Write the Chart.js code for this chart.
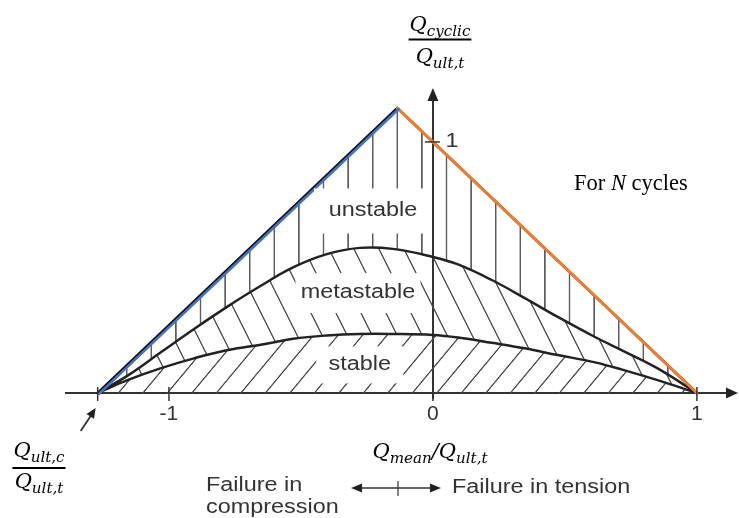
<!DOCTYPE html>
<html>
<head>
<meta charset="utf-8">
<script src="https://cdn.jsdelivr.net/npm/chart.js@4.4.1/dist/chart.umd.min.js"></script>
<style>
  html, body { margin: 0; padding: 0; background: #fff; }
  canvas { display: block; }
</style>
</head>
<body>
<canvas id="c" width="739" height="518"></canvas>
<script>
// Cyclic interaction diagram: cyclic load amplitude vs. mean load, both over tension capacity
const xTickValues = [-1.27, -1, 0, 1];
const xTickLabels = ['', '-1', '0', '1'];
const yTickValues = [1];
const yTickLabels = ['1'];

// Static failure envelope: compression capacity, apex, tension capacity
const envelopeX = [-1.27, -0.135, 1];
const envelopeY = [0, 1.135, 0];

// Boundary between the unstable and metastable zones
const metastableX = [-1.27, -1.155, -1.027, -0.902, -0.777, -0.663, -0.53, -0.402, -0.277, -0.152, 0, 0.095, 0.223, 0.348, 0.473, 0.614, 0.72, 0.848, 1];
const metastableY = [0, 0.07, 0.165, 0.257, 0.345, 0.42, 0.5, 0.553, 0.578, 0.574, 0.542, 0.512, 0.45, 0.378, 0.303, 0.223, 0.168, 0.1, 0];

// Boundary between the metastable and stable zones
const stableX = [-1.27, -1.155, -1.027, -0.902, -0.777, -0.636, -0.53, -0.402, -0.277, -0.152, 0, 0.095, 0.223, 0.348, 0.473, 0.614, 0.72, 0.848, 1];
const stableY = [0, 0.052, 0.1, 0.139, 0.171, 0.195, 0.216, 0.229, 0.235, 0.235, 0.231, 0.221, 0.2, 0.178, 0.151, 0.122, 0.092, 0.052, 0];

// Zone names and where they sit (data units)
const zoneNames = ['unstable', 'metastable', 'stable'];
const zoneX = [-0.227, -0.284, -0.277];
const zoneY = [0.725, 0.398, 0.112];

const pts = (xs, ys) => xs.map((x, i) => ({ x, y: ys[i] }));

// Hatch patterns are built once the scales know their pixel geometry
const hatch = { vertical: 'transparent', forward: 'transparent', back: 'transparent' };

function makeHatch(ctx, angleDeg, spacing, width, color, x0, y0) {
  const P = 32;
  const tile = document.createElement('canvas');
  tile.width = P; tile.height = 8;
  const g = tile.getContext('2d');
  g.fillStyle = color;
  const w = width * P / spacing;
  g.fillRect(P / 2 - w / 2, 0, w, 8);
  const pat = ctx.createPattern(tile, 'repeat');
  const m = new DOMMatrix().translate(x0, y0).rotate(angleDeg).scale(spacing / P, 1).translate(-P / 2, 0);
  pat.setTransform(m);
  return pat;
}

function sansText(ctx, text, x, y, align) {
  ctx.save();
  ctx.translate(x, y);
  ctx.scale(1.2, 1);
  ctx.font = '19.5px "Liberation Sans", Arial, sans-serif';
  ctx.fillStyle = '#333';
  ctx.textAlign = align;
  ctx.textBaseline = 'middle';
  ctx.fillText(text, 0, 0);
  ctx.restore();
}

// Math-style run: main letters and lowered subscripts, italic serif
function mathRun(ctx, parts, x, y, size, draw) {
  let cx = x;
  for (const [t, sub] of parts) {
    const fs = sub ? size * 0.72 : size;
    ctx.font = 'italic ' + fs + 'px "DejaVu Serif", serif';
    if (draw) ctx.fillText(t, cx, sub ? y + size * 0.22 : y);
    cx += ctx.measureText(t).width;
  }
  return cx - x;
}
function mathCentered(ctx, parts, cx, y, size) {
  const w = mathRun(ctx, parts, 0, 0, size, false);
  mathRun(ctx, parts, cx - w / 2, y, size, true);
  return w;
}
function fraction(ctx, num, den, cx, numY, lineY, denY, size) {
  ctx.save();
  ctx.fillStyle = '#000';
  ctx.textAlign = 'left';
  ctx.textBaseline = 'alphabetic';
  const w1 = mathCentered(ctx, num, cx, numY, size);
  const w2 = mathCentered(ctx, den, cx, denY, size);
  const w = Math.max(w1, w2) + 2;
  ctx.fillRect(cx - w / 2, lineY - 1, w, 2);
  ctx.restore();
}

function arrowHead(ctx, tx, ty, fx, fy, len, half) {
  const a = Math.atan2(ty - fy, tx - fx);
  ctx.beginPath();
  ctx.moveTo(tx, ty);
  ctx.lineTo(tx - len * Math.cos(a) + half * Math.sin(a), ty - len * Math.sin(a) - half * Math.cos(a));
  ctx.lineTo(tx - len * Math.cos(a) - half * Math.sin(a), ty - len * Math.sin(a) + half * Math.cos(a));
  ctx.closePath();
  ctx.fill();
}

const decor = {
  id: 'decor',
  afterLayout(chart) {
    const { x, y } = chart.scales;
    const ctx = chart.ctx;
    hatch.vertical = makeHatch(ctx, 0, 24.6, 1.5, '#5a5a5a', x.getPixelForValue(envelopeX[1]), 0);
    const mf = 1.2;
    hatch.forward = makeHatch(ctx, Math.atan(1 / mf) * 180 / Math.PI, 24.5 * mf / Math.hypot(1, mf), 1.3, '#4a4a4a',
      x.getPixelForValue(0) + 4, y.getPixelForValue(0));
    const mb = 2;
    hatch.back = makeHatch(ctx, -Math.atan(1 / mb) * 180 / Math.PI, 25 * mb / Math.hypot(1, mb), 1.3, '#4a4a4a',
      x.getPixelForValue(0), y.getPixelForValue(0.542));
  },
  beforeDatasetDraw(chart, args) {
    const s = chart.data.datasets[args.index].shift;
    chart.ctx.save();
    if (s) chart.ctx.translate(s[0], s[1]);
  },
  afterDatasetDraw(chart) {
    chart.ctx.restore();
  },
  afterDatasetsDraw(chart) {
    const { x, y } = chart.scales;
    const ctx = chart.ctx;
    const x0 = x.getPixelForValue(0), y0 = y.getPixelForValue(0);

    // zone labels on cleared boxes
    const boxes = [[118, 45], [125, 40], [87, 37]];
    zoneNames.forEach((name, i) => {
      const cx = x.getPixelForValue(zoneX[i]), cy = y.getPixelForValue(zoneY[i]);
      ctx.fillStyle = '#fff';
      ctx.fillRect(cx - boxes[i][0] / 2, cy - boxes[i][1] / 2, boxes[i][0], boxes[i][1]);
      sansText(ctx, name, cx, cy, 'center');
    });

    ctx.save();
    ctx.strokeStyle = '#333';
    ctx.fillStyle = '#222';
    ctx.lineWidth = 1.5;
    // tick marks crossing the axes
    xTickValues.forEach(v => {
      const px = x.getPixelForValue(v);
      ctx.beginPath(); ctx.moveTo(px, y0 - 6); ctx.lineTo(px, y0 + 8); ctx.stroke();
    });
    yTickValues.forEach((v, i) => {
      const py = y.getPixelForValue(v);
      ctx.beginPath(); ctx.moveTo(x0 - 8, py); ctx.lineTo(x0 + 7, py); ctx.stroke();
      sansText(ctx, yTickLabels[i], x0 + 19, py, 'center');
    });
    // axis arrowheads
    arrowHead(ctx, chart.chartArea.right + 6, y0, chart.chartArea.right - 4, y0, 12, 5.5);
    arrowHead(ctx, x0, chart.chartArea.top - 10, x0, chart.chartArea.top + 4, 13, 5.5);

    // pointer to the compression capacity
    const vx = x.getPixelForValue(envelopeX[0]);
    ctx.lineWidth = 1.8;
    ctx.beginPath(); ctx.moveTo(vx - 17, y0 + 38); ctx.lineTo(vx - 5, y0 + 20); ctx.stroke();
    arrowHead(ctx, vx - 2, y0 + 15, vx - 17, y0 + 38, 10, 4.5);

    // direction of failure
    ctx.lineWidth = 1.6;
    ctx.beginPath(); ctx.moveTo(355, 488); ctx.lineTo(437, 488); ctx.stroke();
    arrowHead(ctx, 351, 488, 365, 488, 11, 4.5);
    arrowHead(ctx, 441, 488, 427, 488, 11, 4.5);
    ctx.lineWidth = 1.2;
    ctx.beginPath(); ctx.moveTo(398, 481); ctx.lineTo(398, 496); ctx.stroke();
    ctx.restore();

    sansText(ctx, 'Failure in', 206, 486, 'left');
    sansText(ctx, 'compression', 206, 508, 'left');
    sansText(ctx, 'Failure in tension', 452, 488, 'left');

    // axis titles
    fraction(ctx, [['Q', 0], ['cyclic', 1]], [['Q', 0], ['ult,t', 1]], 440, 31, 39.5, 63, 21);
    ctx.save();
    ctx.fillStyle = '#000';
    ctx.textBaseline = 'alphabetic';
    mathCentered(ctx, [['Q', 0], ['mean', 1], ['/', 0], ['Q', 0], ['ult,t', 1]], 430, 458, 21);
    ctx.restore();
    fraction(ctx, [['Q', 0], ['ult,c', 1]], [['Q', 0], ['ult,t', 1]], 39, 457, 468, 488, 21);

    // cycle count note
    ctx.save();
    ctx.fillStyle = '#000';
    ctx.textBaseline = 'alphabetic';
    let tx = 574;
    ctx.font = '22.5px "Liberation Serif", serif';
    ctx.fillText('For ', tx, 190); tx += ctx.measureText('For ').width;
    ctx.font = 'italic 22.5px "Liberation Serif", serif';
    ctx.fillText('N', tx, 190); tx += ctx.measureText('N').width;
    ctx.font = '22.5px "Liberation Serif", serif';
    ctx.fillText(' cycles', tx, 190);
    ctx.restore();
  }
};

new Chart(document.getElementById('c'), {
  type: 'line',
  data: {
    datasets: [
      { label: 'stable', data: pts(stableX, stableY), borderColor: '#222', borderWidth: 2.5,
        tension: 0.4, fill: 'origin', backgroundColor: () => hatch.forward, order: 2 },
      { label: 'metastable', data: pts(metastableX, metastableY), borderColor: '#222', borderWidth: 2.5,
        tension: 0.4, fill: '-1', backgroundColor: () => hatch.back, order: 2 },
      { label: 'unstable', data: pts(envelopeX, envelopeY), borderColor: '#111', borderWidth: 2.5,
        tension: 0, fill: '-1', backgroundColor: () => hatch.vertical, order: 3 },
      { label: 'compression side', data: pts(envelopeX.slice(0, 2), envelopeY.slice(0, 2)), borderColor: '#4472C4',
        borderWidth: 2.6, tension: 0, fill: false, order: 1, shift: [1.3, 0.9] },
      { label: 'tension side', data: pts(envelopeX.slice(1), envelopeY.slice(1)), borderColor: '#ED7D31',
        borderWidth: 3, tension: 0, fill: false, order: 1 }
    ]
  },
  options: {
    responsive: false,
    animation: false,
    events: [],
    layout: { padding: { left: 66, right: 7, top: 98, bottom: 120 } },
    elements: { point: { radius: 0, hoverRadius: 0 }, line: { borderCapStyle: 'round', borderJoinStyle: 'miter' } },
    plugins: {
      legend: { display: false },
      tooltip: { enabled: false },
      filler: { drawTime: 'beforeDatasetsDraw', propagate: false }
    },
    scales: {
      x: {
        type: 'linear', position: { y: 0 }, min: -1.39, max: 1.133,
        afterBuildTicks: s => { s.ticks = xTickValues.map(v => ({ value: v })); },
        afterFit: s => { s.height = 0; },
        ticks: {
          callback: (v, i) => xTickLabels[i],
          autoSkip: false, maxRotation: 0, padding: 9,
          color: '#333', font: { family: '"Liberation Sans", Arial, sans-serif', size: 21 }
        },
        grid: { display: false, drawTicks: false },
        border: { display: true, color: '#333', width: 2 }
      },
      y: {
        type: 'linear', position: { x: 0 }, min: -0.02, max: 1.175,
        afterFit: s => { s.width = 0; },
        ticks: { display: false },
        grid: { display: false, drawTicks: false },
        border: { display: true, color: '#333', width: 2 }
      }
    }
  },
  plugins: [decor]
});
</script>
</body>
</html>
